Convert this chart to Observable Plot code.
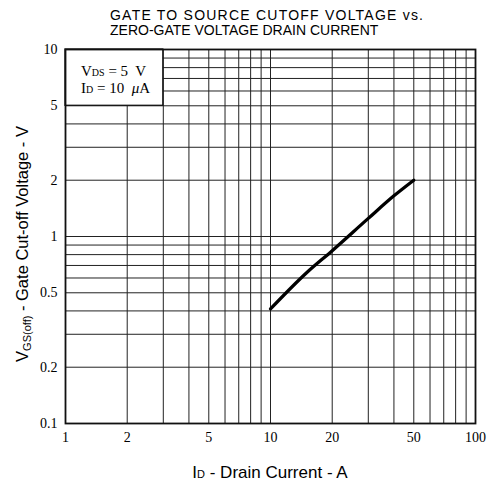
<!DOCTYPE html>
<html>
<head>
<meta charset="utf-8">
<script src="https://cdn.jsdelivr.net/npm/d3@7"></script>
<script src="https://cdn.jsdelivr.net/npm/@observablehq/plot@0.6"></script>
<style>
  html, body { margin: 0; padding: 0; background: #fff; }
  #chart svg { display: block; }
</style>
</head>
<body>
<div id="chart"></div>
<script>
// ---- data ----
const titleLines = ["GATE TO SOURCE CUTOFF VOLTAGE vs.", "ZERO-GATE VOLTAGE DRAIN CURRENT"];
const xTicks = [1, 2, 5, 10, 20, 50, 100];
const yTicks = [0.1, 0.2, 0.5, 1, 2, 5, 10];
const xGrid = [1, 2, 3, 4, 5, 6, 7, 8, 9, 10, 20, 30, 40, 50, 60, 70, 80, 90, 100];
const yGrid = [0.1, 0.2, 0.3, 0.4, 0.5, 0.6, 0.7, 0.8, 0.9, 1, 2, 3, 4, 5, 6, 7, 8, 9, 10];
const drainCurrent = [10, 15, 20, 30, 40, 50];
const cutoffVoltage = [0.41, 0.64, 0.84, 1.25, 1.65, 2.0];
const legendBox = [{x1: 1, x2: 3, y1: 5, y2: 10}];

const curve = drainCurrent.map((x, i) => ({x, y: cutoffVoltage[i]}));

const serif = "'Liberation Serif', 'DejaVu Serif', serif";
const sans = "'Liberation Sans', Arial, sans-serif";

const plot = Plot.plot({
  width: 491,
  height: 483,
  marginLeft: 65,
  marginRight: 16,
  marginTop: 49,
  marginBottom: 60,
  style: {fontFamily: serif, fontSize: "14px", background: "#fff", color: "#000"},
  x: {type: "log", domain: [1, 100]},
  y: {type: "log", domain: [0.1, 10]},
  marks: [
    Plot.ruleX(xGrid, {stroke: "#222", strokeWidth: 1}),
    Plot.ruleY(yGrid, {stroke: "#222", strokeWidth: 1}),
    Plot.rect(legendBox, {x1: "x1", x2: "x2", y1: "y1", y2: "y2", fill: "#fff", stroke: "#111", strokeWidth: 1.3}),
    Plot.frame({stroke: "#111", strokeWidth: 1.8}),
    Plot.line(curve, {x: "x", y: "y", stroke: "#000", strokeWidth: 3.3, curve: "monotone-x"}),
    Plot.axisX({ticks: xTicks, tickSize: 0, tickPadding: 9, tickFormat: d => String(d), label: null, fontSize: 14}),
    Plot.axisY({ticks: yTicks, tickSize: 0, tickPadding: 8, tickFormat: d => String(d), label: null, fontSize: 14})
  ]
});

document.getElementById("chart").appendChild(plot);

const svg = d3.select(plot);
const sx = plot.scale("x"), sy = plot.scale("y");

// title
const titleWidths = [313, null];
titleLines.forEach((line, i) => {
  const el = svg.append("text")
    .attr("font-family", sans)
    .attr("font-size", 14)
    .attr("text-anchor", "start")
    .attr("fill", "#000")
    .attr("x", 110)
    .attr("y", 19.5 + i * 15)
    .text(line);
  if (titleWidths[i]) el.attr("textLength", titleWidths[i]).attr("lengthAdjust", "spacing");
});

// legend text
const lx = sx.apply(1) + 16;
const ly = sy.apply(10);
const l1 = svg.append("text").attr("font-family", serif).attr("font-size", 15).attr("text-anchor", "start").attr("x", lx).attr("y", ly + 27);
l1.append("tspan").text("V");
l1.append("tspan").attr("font-size", 10).text("DS");
l1.append("tspan").text(" = 5  V");
const l2 = svg.append("text").attr("font-family", serif).attr("font-size", 15).attr("text-anchor", "start").attr("x", lx).attr("y", ly + 44);
l2.append("tspan").text("I");
l2.append("tspan").attr("font-size", 10).text("D");
l2.append("tspan").text(" = 10  ");
l2.append("tspan").attr("font-style", "italic").text("μ");
l2.append("tspan").text("A");

// y axis label
const yl = svg.append("text")
  .attr("font-family", sans)
  .attr("font-size", 16.5)
  .attr("text-anchor", "middle")
  .attr("transform", `translate(28,${(sy.apply(0.1) + sy.apply(10)) / 2 + 8}) rotate(-90)`);
yl.append("tspan").text("V");
yl.append("tspan").attr("font-size", 11).attr("dy", 3).text("GS(off)");
yl.append("tspan").attr("dy", -3).text(" - Gate Cut-off Voltage - V");

// x axis label
const xl = svg.append("text")
  .attr("font-family", sans)
  .attr("font-size", 17)
  .attr("text-anchor", "middle")
  .attr("x", (sx.apply(1) + sx.apply(100)) / 2)
  .attr("y", 478);
xl.append("tspan").text("I");
xl.append("tspan").attr("font-size", 11).text("D");
xl.append("tspan").text(" - Drain Current - A");
</script>
</body>
</html>
